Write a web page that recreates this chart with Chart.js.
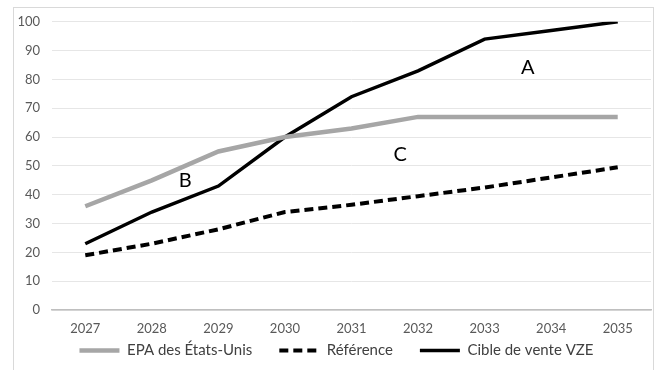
<!DOCTYPE html>
<html><head><meta charset="utf-8">
<script src="https://cdn.jsdelivr.net/npm/chart.js@4"></script>
<style>
html,body{margin:0;padding:0;background:#fff;}
#wrap{position:absolute;left:13px;top:7px;width:641px;height:366px;border:1px solid #d9d9d9;box-sizing:border-box;overflow:hidden;}
canvas{display:block;position:absolute;left:0;top:-6px;}
</style></head><body>
<div id="wrap"><canvas id="c" width="639" height="390"></canvas></div>
<script>
const years = ['2027','2028','2029','2030','2031','2032','2033','2034','2035'];
const epa = [36,45,55,60,63,67,67,67,67];
const reference = [19,23,28,34,36.5,39.5,42.5,46,49.5];
const cible = [23,34,43,60,74,83,94,97,100];
const yTicks = [0,10,20,30,40,50,60,70,80,90,100];
const seriesNames = ['EPA des États-Unis','Référence','Cible de vente VZE'];
const notes = [{t:'A',x:6.65,y:84.3},{t:'B',x:1.5,y:45},{t:'C',x:4.73,y:54}];

const FONT = 'Lato, "Open Sans", sans-serif';
const notePlugin = {
  id:'notes',
  afterLayout(chart){
    const L = chart.legend;
    if (L) { L.top -= 24; L.bottom -= 24; L.left += 4; L.right += 4; }
  },
  afterDatasetsDraw(chart){
    const {ctx,scales:{x,y}} = chart;
    ctx.save();
    ctx.font = '20px ' + FONT;
    ctx.fillStyle = '#000';
    ctx.textAlign='center'; ctx.textBaseline='middle';
    notes.forEach(n=>{ ctx.fillText(n.t, x.getPixelForValue(n.x), y.getPixelForValue(n.y)); });
    ctx.restore();
  }
};
new Chart(document.getElementById('c'),{
  type:'line',
  data:{labels:years,datasets:[
    {label:seriesNames[0],data:epa,borderColor:'#a6a6a6',backgroundColor:'#a6a6a6',borderWidth:4.5,pointRadius:0,tension:0},
    {label:seriesNames[1],data:reference,borderColor:'#000',backgroundColor:'#000',borderWidth:4,borderDash:[9,5],pointRadius:0,tension:0},
    {label:seriesNames[2],data:cible,borderColor:'#000',backgroundColor:'#000',borderWidth:3.5,pointRadius:0,tension:0}
  ]},
  options:{
    responsive:false,animation:false,
    layout:{padding:{top:0,right:2,left:0,bottom:0}},
    plugins:{
      tooltip:{enabled:false},
      legend:{position:'bottom',labels:{usePointStyle:true,pointStyle:'line',pointStyleWidth:40,boxHeight:15,padding:27,color:'#404040',font:{family:FONT,size:15},
        generateLabels(chart){
          const items = Chart.defaults.plugins.legend.labels.generateLabels(chart);
          items.forEach((it,i)=>{ const ds=chart.data.datasets[i]; it.lineDash = ds.borderDash||[]; it.lineWidth = ds.borderWidth; it.strokeStyle = ds.borderColor; });
          return items;
        }}}
    },
    scales:{
      x:{offset:true,grid:{display:false,drawTicks:false},border:{color:'#bfbfbf',width:1.5},
         afterFit(s){s.height=30;},
         ticks:{color:'#595959',font:{family:FONT,size:13},padding:11}},
      y:{min:0,max:100,afterBuildTicks(s){s.ticks=yTicks.map(v=>({value:v}));},
         afterFit(s){s.width=38;},
         grid:{color:'#e6e6e6',drawTicks:false},border:{display:false},
         ticks:{color:'#595959',font:{family:FONT,size:13},padding:12}}
    }
  },
  plugins:[notePlugin]
});
</script></body></html>
